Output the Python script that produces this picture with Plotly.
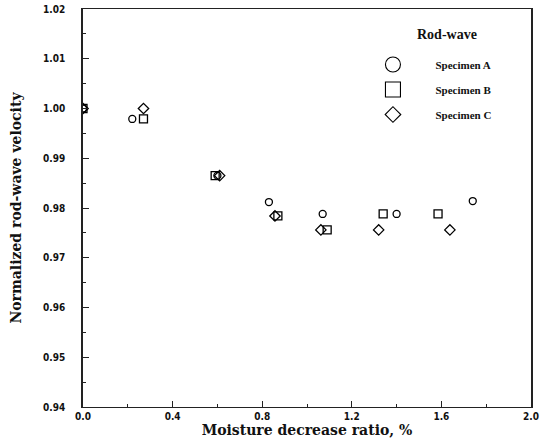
import plotly.graph_objects as go

# Data
spec_a_x = [0.0, 0.22, 0.60, 0.83, 1.07, 1.40, 1.74]
spec_a_y = [1.000, 0.9979, 0.9865, 0.9812, 0.9788, 0.9788, 0.9814]
spec_b_x = [0.0, 0.27, 0.59, 0.87, 1.09, 1.34, 1.585]
spec_b_y = [1.000, 0.9979, 0.9865, 0.9784, 0.9756, 0.9788, 0.9788]
spec_c_x = [0.0, 0.27, 0.61, 0.857, 1.062, 1.32, 1.638]
spec_c_y = [1.000, 1.000, 0.9865, 0.9784, 0.9756, 0.9756, 0.9756]

series_names = ["Specimen A", "Specimen B", "Specimen C"]
legend_title = "Rod-wave"
symbols = ["circle-open", "square-open", "diamond-open"]
data_sizes = [7, 8, 8]
legend_sizes = [15, 15, 12]

x_ticks = [0.0, 0.4, 0.8, 1.2, 1.6, 2.0]
y_ticks = [0.94, 0.95, 0.96, 0.97, 0.98, 0.99, 1.00, 1.01, 1.02]

xs = [spec_a_x, spec_b_x, spec_c_x]
ys = [spec_a_y, spec_b_y, spec_c_y]

fig = go.Figure()
for name, sx, sy, sym, sz in zip(series_names, xs, ys, symbols, data_sizes):
    fig.add_trace(go.Scatter(
        x=sx, y=sy, mode="markers", name=name, showlegend=False,
        marker=dict(symbol=sym, size=sz, color="black", line=dict(color="black", width=1.3)),
    ))
# legend-only traces with larger symbols
for i, (name, sym, sz) in enumerate(zip(series_names, symbols, legend_sizes)):
    fig.add_trace(go.Scatter(
        x=[None], y=[None], mode="markers", name=f"<b>{name}</b>", showlegend=True,
        legendgroup=f"g{i}",
        marker=dict(symbol=sym, size=sz, color="black", line=dict(color="black", width=1.1)),
    ))

tick_font = dict(family="DejaVu Sans Condensed, Liberation Sans Narrow, sans-serif", size=10, color="#111", weight="bold")
serif = "DejaVu Serif, Liberation Serif, serif"

fig.update_layout(
    width=541, height=441,
    margin=dict(l=83, r=10, t=9, b=34, autoexpand=False),
    paper_bgcolor="white", plot_bgcolor="white",
    showlegend=True,
    legend=dict(
        x=0.597, y=0.897, xanchor="left", yanchor="top",
        bgcolor="rgba(0,0,0,0)", borderwidth=0,
        font=dict(family="Liberation Serif, serif", size=11, color="#111"),
        itemwidth=75, tracegroupgap=6,
    ),
    annotations=[dict(
        text=f"<b>{legend_title}</b>", xref="paper", yref="paper",
        x=0.8125, y=0.937, xanchor="center", yanchor="middle", showarrow=False,
        font=dict(family="Liberation Serif, serif", size=14, color="#111"),
    )],
    xaxis=dict(
        range=[0, 2.0], tickvals=x_ticks, ticktext=[f"{v:.1f}" for v in x_ticks],
        ticks="inside", ticklen=6, tickwidth=1, tickcolor="#222",
        minor=dict(ticks="inside", ticklen=3, dtick=0.2, tickcolor="#222"),
        showline=True, linecolor="#222", linewidth=1.3, mirror=True,
        showgrid=False, zeroline=False, tickfont=tick_font, automargin=False,
        title=dict(text="<b>Moisture decrease ratio, %</b>",
                   font=dict(family=serif, size=14, color="#111"), standoff=2),
    ),
    yaxis=dict(
        range=[0.94, 1.02], tickvals=y_ticks, ticktext=[f"{v:.2f}" for v in y_ticks],
        ticks="inside", ticklen=6, tickwidth=1, tickcolor="#222",
        minor=dict(ticks="inside", ticklen=3, dtick=0.005, tickcolor="#222"),
        showline=True, linecolor="#222", linewidth=1.5, mirror=True,
        showgrid=False, zeroline=False, tickfont=tick_font, ticklabelstandoff=14,
        automargin=False,
        title=dict(text="<b>Normalized rod-wave velocity</b>",
                   font=dict(family=serif, size=14, color="#111"), standoff=18),
    ),
)

fig.write_html(
    "out.html",
    config={"displayModeBar": False},
    post_script="document.body.style.margin='0';document.body.style.overflow='hidden';",
)
